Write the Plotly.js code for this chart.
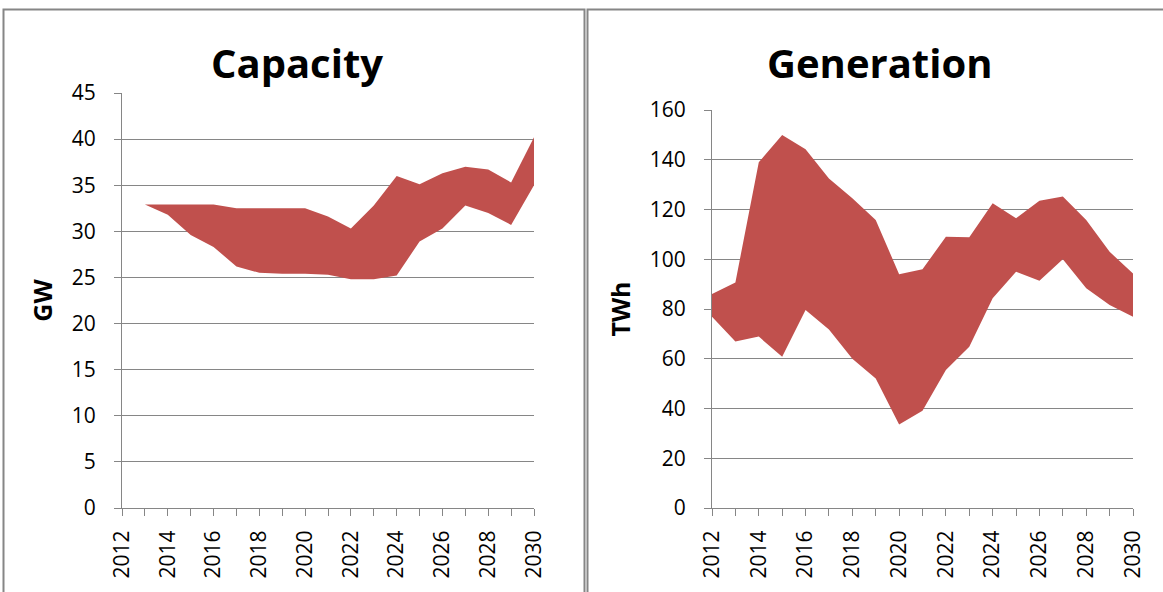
<!DOCTYPE html>
<html><head><meta charset="utf-8">
<script src="https://cdn.plot.ly/plotly-3.0.1.min.js"></script>
<style>body{margin:0;background:#fff}#c{width:1163px;height:592px}</style>
</head><body><div id="c"></div>
<script>
// Capacity (GW)
const capYears = [2013,2014,2015,2016,2017,2018,2019,2020,2021,2022,2023,2024,2025,2026,2027,2028,2029,2030];
const capLow  = [32.9,31.8,29.6,28.3,26.2,25.5,25.4,25.4,25.3,24.8,24.8,25.2,28.9,30.3,32.8,32.0,30.7,35.0];
const capHigh = [32.9,32.9,32.9,32.9,32.5,32.5,32.5,32.5,31.6,30.3,32.8,36.0,35.1,36.3,37.0,36.7,35.3,40.2];
// Generation (TWh)
const genYears = [2012,2013,2014,2015,2016,2017,2018,2019,2020,2021,2022,2023,2024,2025,2026,2027,2028,2029,2030];
const genLow  = [76.9,66.9,68.9,60.8,79.6,71.8,60.0,52.1,33.6,39.1,55.5,64.8,84.3,95.0,91.4,100.0,88.3,81.6,76.9];
const genHigh = [86.0,90.7,139.0,150.0,144.2,132.5,124.5,115.8,94.0,96.0,109.0,108.8,122.5,116.5,123.5,125.2,115.8,103.0,94.3];
const tickYears = [2012,2013,2014,2015,2016,2017,2018,2019,2020,2021,2022,2023,2024,2025,2026,2027,2028,2029,2030];
const tickText = tickYears.map(y => (y % 2 === 0 ? String(y) : ''));

const W = 1163, H = 592;
const fx = p => p / W, fy = p => 1 - p / H;
const fill = '#C0504D';
const font = '"Open Sans", Lato, sans-serif';

function band(xs, lo, hi, xa, ya) {
  return [
    {x: xs, y: lo, xaxis: xa, yaxis: ya, mode: 'lines', line: {width: 0, color: fill}, hoverinfo: 'skip', showlegend: false},
    {x: xs, y: hi, xaxis: xa, yaxis: ya, mode: 'lines', line: {width: 0, color: fill}, fill: 'tonexty', fillcolor: fill, showlegend: false}
  ];
}

const xBase = {
  tickmode: 'array', tickvals: tickYears, ticktext: tickText, tickangle: -90,
  ticks: 'outside', ticklen: 7, tickcolor: '#868686', showgrid: false, zeroline: false,
  showline: true, linecolor: '#868686', linewidth: 1,
  tickfont: {family: font, size: 21, color: '#000'}, ticklabelstandoff: 6, fixedrange: true
};
const yBase = {
  showgrid: true, gridcolor: '#868686', gridwidth: 1, zeroline: false,
  showline: true, linecolor: '#868686', linewidth: 1, ticks: 'outside', ticklen: 7, tickcolor: '#868686',
  tickfont: {family: font, size: 21, color: '#000'}, ticklabelstandoff: 14, fixedrange: true
};

const layout = {
  width: W, height: H, margin: {l: 0, r: 0, t: 0, b: 0},
  paper_bgcolor: '#fff', plot_bgcolor: 'rgba(0,0,0,0)', showlegend: false,
  xaxis: Object.assign({}, xBase, {domain: [fx(122), fx(534)], range: [2012, 2030], anchor: 'y'}),
  yaxis: Object.assign({}, yBase, {domain: [fy(508), fy(93)], range: [0, 45], dtick: 5, anchor: 'x',
    title: {text: '<b>GW</b>', font: {family: font, size: 25, color: '#000'}, standoff: 12}}),
  xaxis2: Object.assign({}, xBase, {domain: [fx(712), fx(1133)], range: [2012, 2030], anchor: 'y2'}),
  yaxis2: Object.assign({}, yBase, {domain: [fy(508), fy(110)], range: [0, 160], dtick: 20, anchor: 'x2',
    title: {text: '<b>TWh</b>', font: {family: font, size: 25, color: '#000'}, standoff: 12}}),
  annotations: [
    {text: '<b>Capacity</b>', xref: 'paper', yref: 'paper', x: fx(297), y: fy(63), showarrow: false,
     font: {family: font, size: 40, color: '#000'}, xanchor: 'center', yanchor: 'middle'},
    {text: '<b>Generation</b>', xref: 'paper', yref: 'paper', x: fx(879), y: fy(63), showarrow: false,
     font: {family: font, size: 40, color: '#000'}, xanchor: 'center', yanchor: 'middle'}
  ],
  shapes: [
    {type: 'rect', xref: 'paper', yref: 'paper', x0: fx(3.5), x1: fx(584.5), y0: fy(600), y1: fy(9.5),
     line: {color: '#868686', width: 2}},
    {type: 'rect', xref: 'paper', yref: 'paper', x0: fx(587.5), x1: fx(1175), y0: fy(600), y1: fy(9.5),
     line: {color: '#868686', width: 2}}
  ]
};

const data = [].concat(
  band(capYears, capLow, capHigh, 'x', 'y'),
  band(genYears, genLow, genHigh, 'x2', 'y2')
);
Plotly.newPlot('c', data, layout, {displayModeBar: false, staticPlot: true});
</script></body></html>
